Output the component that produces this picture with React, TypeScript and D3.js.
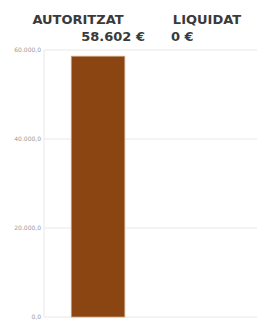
import React from 'react';
import * as d3 from 'd3';

const categories = ['AUTORITZAT', 'LIQUIDAT'];
const amounts = [58602, 0];
const amountLabels = ['58.602 €', '0 €'];
const yTicks = [0, 20000, 40000, 60000];

const W = 257;
const H = 320;
const margin = { top: 50, right: 0, bottom: 3, left: 44 };

const fmt = (v: number) => d3.format(',.1f')(v).replace(/,/g, '#').replace('.', ',').replace(/#/g, '.');

const App: React.FC = () => {
  const x = d3.scaleBand<string>()
    .domain(categories)
    .range([margin.left, W - margin.right])
    .paddingInner(0.49)
    .paddingOuter(0.26);
  const y = d3.scaleLinear()
    .domain([0, 60000])
    .range([H - margin.bottom, margin.top]);

  return (
    <svg width={W} height={H} style={{ position: 'absolute', left: 0, top: 0, background: '#fff' }}>
      {/* grid */}
      {yTicks.map(t => (
        <g key={t}>
          <line x1={margin.left} x2={W} y1={y(t)} y2={y(t)} stroke="#e8e8e8" strokeWidth={1} />
          <text x={margin.left - 3} y={y(t) + 2} textAnchor="end" fontSize={6}
            fontFamily="DejaVu Sans, sans-serif" fill="#999">{fmt(t)}</text>
        </g>
      ))}
      <line x1={margin.left} x2={margin.left} y1={margin.top} y2={H - margin.bottom} stroke="#e8e8e8" />
      {/* bars */}
      {categories.map((c, i) => {
        const h = y(0) - y(amounts[i]);
        return h > 0 ? (
          <rect key={c} x={x(c)!} y={y(amounts[i])} width={x.bandwidth()} height={h}
            fill="#8b4513" stroke="#c9a27c" strokeWidth={0.8} />
        ) : null;
      })}
      {/* headers */}
      <text x={78} y={24} textAnchor="middle" fontSize={13} fontWeight="bold"
        fontFamily="DejaVu Sans, sans-serif" fill="#3a3a3a">{categories[0]}</text>
      <text x={145} y={41} textAnchor="end" fontSize={13} fontWeight="bold"
        fontFamily="DejaVu Sans, sans-serif" fill="#3a3a3a">{amountLabels[0]}</text>
      <text x={207} y={24} textAnchor="middle" fontSize={13} fontWeight="bold"
        fontFamily="DejaVu Sans, sans-serif" fill="#3a3a3a">{categories[1]}</text>
      <text x={171} y={41} textAnchor="start" fontSize={13} fontWeight="bold"
        fontFamily="DejaVu Sans, sans-serif" fill="#3a3a3a">{amountLabels[1]}</text>
    </svg>
  );
};

export default App;
